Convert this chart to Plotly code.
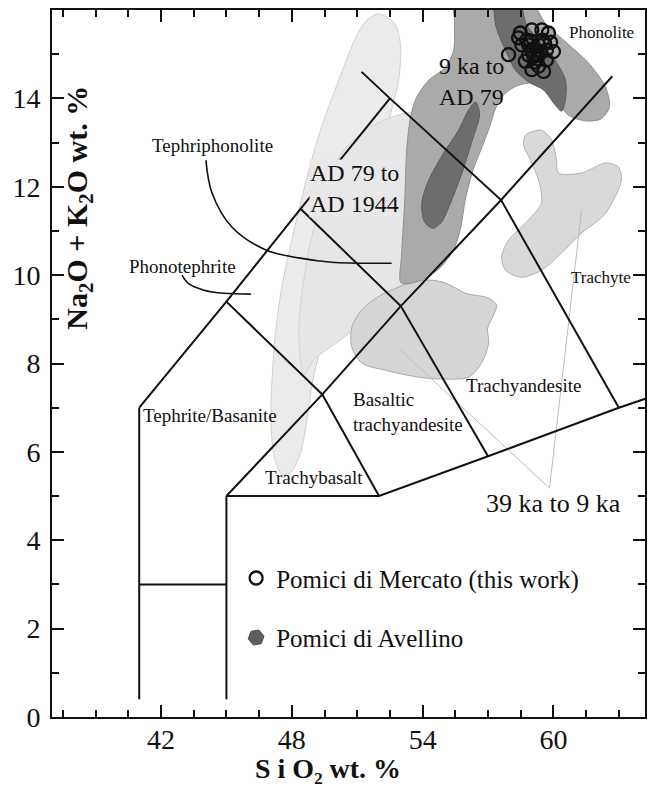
import plotly.graph_objects as go

SERIF = "Liberation Serif"

# ---------------- TAS classification boundaries (SiO2 wt.%, Na2O+K2O wt.%) ----------------
tas_x_41 = [41, 41];            tas_y_41 = [0.4, 7]
tas_x_picro = [41, 45];         tas_y_picro = [3, 3]
tas_x_45 = [45, 45];            tas_y_45 = [0.4, 5]
tas_x_base = [45, 52, 57, 63, 69];           tas_y_base = [5, 5, 5.9, 7, 8]
tas_x_teph = [41, 45, 48.4, 52.5];           tas_y_teph = [7, 9.4, 11.5, 14]
tas_x_diag = [45, 49.4, 53, 57.6, 62.7];     tas_y_diag = [5, 7.3, 9.3, 11.7, 14.5]
tas_x_tb = [49.4, 52];                       tas_y_tb = [7.3, 5]
tas_x_bta = [48.4, 53, 57];                  tas_y_bta = [11.5, 9.3, 5.9]
tas_x_pt = [45, 49.4];                       tas_y_pt = [9.4, 7.3]
tas_x_phon = [51.2, 52.5, 57.6, 63];         tas_y_phon = [14.6, 14, 11.7, 7]

# ---------------- Fields ----------------
# AD 79 to AD 1944 (very light elongated field)
f1_x = [51.99, 52.67, 52.99, 52.90, 52.58, 51.99, 51.16, 50.29, 49.56, 48.96, 48.69, 48.41,
        47.96, 47.54, 47.18, 47.04, 47.22, 47.54, 48.32, 49.24, 50.15, 50.98, 51.44]
f1_y = [15.91, 15.73, 15.21, 14.41, 13.74, 12.60, 11.25, 9.89, 8.76, 7.62, 6.72, 5.99,
        5.54, 5.50, 5.92, 6.88, 8.53, 9.73, 11.47, 13.17, 14.41, 15.43, 15.77]
# AD 79 to AD 1944 (second lobe)
f2_x = [50.38, 51.39, 52.44, 53.50, 53.82, 53.59, 53.36, 52.90, 51.76, 50.84, 49.92, 49.01,
        48.55, 48.32, 48.78, 49.70]
f2_y = [12.83, 13.28, 13.55, 13.67, 13.40, 11.70, 10.34, 9.66, 9.21, 8.76, 8.42, 8.08,
        7.74, 8.76, 10.57, 12.15]
# 39 ka to 9 ka (trachyandesite blob)
f3_x = [52.58, 53.36, 54.28, 55.06, 55.97, 57.03, 57.39, 57.25, 56.98, 57.03, 56.70, 56.11,
        54.87, 53.82, 52.44, 51.21, 50.75, 50.75, 51.21, 51.99]
f3_y = [9.66, 9.82, 9.89, 9.82, 9.59, 9.48, 9.32, 9.09, 8.80, 8.46, 8.01, 7.69,
        7.65, 7.69, 7.83, 8.01, 8.37, 8.82, 9.21, 9.52]
# 39 ka to 9 ka (trachyte blob)
f4_x = [58.72, 59.45, 59.91, 60.14, 60.23, 61.28, 62.39, 62.98, 63.12, 62.39, 61.29, 60.37,
        59.45, 58.54, 57.80, 57.62, 57.94, 58.86, 59.45, 59.32, 58.95, 58.63]
f4_y = [13.17, 13.28, 13.06, 12.60, 12.31, 12.31, 12.54, 12.45, 12.15, 11.40, 10.95, 10.50,
        10.11, 9.95, 10.11, 10.41, 10.79, 11.25, 11.63, 12.15, 12.60, 12.94]
# 9 ka to AD 79 (medium grey field)
f5_x = [52.99, 53.04, 53.18, 53.27, 53.45, 53.73, 54.28, 55.06, 55.42, 55.47, 55.51, 58.86,
        59.68, 60.46, 61.61, 62.39, 62.57, 62.16, 61.47, 60.69, 60.14, 59.64, 59.00, 58.31,
        57.71, 57.35, 57.07, 56.71, 56.34, 55.97, 55.74, 55.42, 54.83, 54.05, 53.27]
f5_y = [9.84, 10.50, 11.70, 12.83, 13.58, 14.03, 14.41, 14.71, 15.09, 15.66, 16.23, 16.23,
        15.66, 15.32, 14.80, 14.26, 13.80, 13.53, 13.49, 13.62, 13.96, 14.23, 14.35, 14.28,
        14.08, 13.78, 13.35, 12.88, 12.42, 11.74, 11.06, 10.57, 10.18, 9.91, 9.80]
# Pomici di Avellino (dark fields)
av1_x = [56.43, 56.61, 56.25, 55.79, 55.33, 54.87, 54.46, 54.09, 53.96, 54.28, 54.96, 55.65, 56.11]
av1_y = [13.92, 13.64, 13.01, 12.29, 11.70, 11.20, 11.06, 11.20, 11.63, 12.15, 12.76, 13.28, 13.74]
av2_x = [57.35, 57.35, 58.40, 58.77, 59.55, 60.14, 60.55, 60.55, 60.37, 60.05, 59.55, 58.86, 58.26, 57.80]
av2_y = [15.66, 16.23, 16.23, 15.66, 15.21, 14.82, 14.41, 13.96, 13.71, 13.87, 14.19, 14.37, 14.64, 15.09]

# leader lines
lead39a_x = [52.99, 59.82];  lead39a_y = [8.30, 5.18]
lead39b_x = [61.29, 59.82];  lead39b_y = [11.47, 5.18]
lead_tp_x = [44.06, 44.34, 45.25, 46.81, 48.32, 49.83, 52.58]
lead_tp_y = [12.60, 11.86, 11.09, 10.57, 10.39, 10.29, 10.27]
lead_pt_x = [42.96, 43.28, 43.97, 44.89, 46.12]
lead_pt_y = [10.00, 9.80, 9.66, 9.59, 9.57]

# Pomici di Mercato (this work)
merc_sio2 = [57.94, 58.48, 59.01, 59.47, 59.77, 58.40, 58.55, 60.00, 59.55, 59.01, 58.71, 58.86,
             59.32, 59.68, 58.86, 59.32, 59.68, 59.13, 58.77, 59.50, 59.22, 59.87, 59.32,
             59.00, 59.40, 59.10, 58.95, 59.60, 59.25]
merc_alk = [14.99, 15.48, 15.55, 15.55, 15.48, 15.37, 15.21, 15.06, 14.61, 14.65, 14.84, 15.21,
            15.21, 15.09, 14.98, 14.98, 14.87, 14.82, 15.32, 15.32, 15.09, 15.27, 14.73,
            15.10, 15.05, 14.95, 15.30, 15.25, 14.90]

x_ticks = [42, 48, 54, 60]
y_ticks = [0, 2, 4, 6, 8, 10, 12, 14]

fig = go.Figure()

def field(x, y, fill, line):
    fig.add_trace(go.Scatter(x=x + x[:1], y=y + y[:1], mode="lines", fill="toself",
                             fillcolor=fill, line=dict(color=line, width=1, shape="spline", smoothing=0.8),
                             hoverinfo="skip", showlegend=False))

field(f1_x, f1_y, "#ebebeb", "#d0d0d0")
field(f2_x, f2_y, "#e6e6e6", "#d4d4d4")
field(f3_x, f3_y, "#d5d5d5", "#a9a9a9")
field(f4_x, f4_y, "#d9d9d9", "#b3b3b3")
field(f5_x, f5_y, "#aaaaaa", "#8f8f8f")
field(av1_x, av1_y, "#6d6d6d", "#5c5c5c")
field(av2_x, av2_y, "#6d6d6d", "#5c5c5c")

for lx, ly in [(lead39a_x, lead39a_y), (lead39b_x, lead39b_y)]:
    fig.add_trace(go.Scatter(x=lx, y=ly, mode="lines", line=dict(color="#bdbdbd", width=1),
                             hoverinfo="skip", showlegend=False))
for lx, ly in [(lead_tp_x, lead_tp_y), (lead_pt_x, lead_pt_y)]:
    fig.add_trace(go.Scatter(x=lx, y=ly, mode="lines", line=dict(color="#111", width=1.6, shape="spline"),
                             hoverinfo="skip", showlegend=False))

for lx, ly in [(tas_x_41, tas_y_41), (tas_x_picro, tas_y_picro), (tas_x_45, tas_y_45),
               (tas_x_base, tas_y_base), (tas_x_teph, tas_y_teph), (tas_x_diag, tas_y_diag),
               (tas_x_tb, tas_y_tb), (tas_x_bta, tas_y_bta), (tas_x_pt, tas_y_pt),
               (tas_x_phon, tas_y_phon)]:
    fig.add_trace(go.Scatter(x=lx, y=ly, mode="lines", line=dict(color="#111", width=2),
                             hoverinfo="skip", showlegend=False))

fig.add_trace(go.Scatter(x=merc_sio2, y=merc_alk, mode="markers", name="Pomici di Mercato (this work)",
                         legendgroup="a", legendrank=1,
                         marker=dict(symbol="circle-open", size=13, color="#111", line=dict(width=2.3))))
# legend entry for the dark Avellino fields
fig.add_trace(go.Scatter(x=[None], y=[None], mode="markers", name="Pomici di Avellino",
                         legendgroup="b", legendrank=2,
                         marker=dict(symbol="hexagon", size=16, angle=20, color="#5e5e5e",
                                     line=dict(color="#4e4e4e", width=1))))

labels = [
    ("Phonolite", 62.2, 15.50, 17),
    ("Trachyte", 62.16, 9.95, 17),
    ("Tephriphonolite", 44.35, 12.94, 19),
    ("Phonotephrite", 42.98, 10.19, 19),
    ("Tephrite/Basanite", 44.24, 6.83, 19),
    ("Trachybasalt", 49.0, 5.43, 19),
    ("Trachyandesite", 58.63, 7.51, 19),
]
for t, x, y, s in labels:
    fig.add_annotation(x=x, y=y, text=t, showarrow=False, font=dict(family=SERIF, size=s, color="#111"))

fig.add_annotation(x=50.72, y=6.91, text="Basaltic<br>trachyandesite", showarrow=False, xanchor="left",
                   align="left", font=dict(family=SERIF, size=19, color="#111"))
fig.add_annotation(x=54.64, y=14.38, text="9 ka to<br>AD 79", showarrow=False, xanchor="left",
                   align="left", font=dict(family=SERIF, size=24, color="#111"))
fig.add_annotation(x=48.78, y=11.97, text="AD 79 to<br>AD 1944", showarrow=False, xanchor="left",
                   align="left", bgcolor="#e8e8e8", borderpad=0,
                   font=dict(family=SERIF, size=24, color="#111"))
fig.add_annotation(x=60.0, y=4.84, text="39 ka to 9 ka", showarrow=False,
                   font=dict(family=SERIF, size=26, color="#111"))

# axis titles
fig.add_annotation(xref="paper", yref="paper", x=0.0463, y=0.721, xanchor="center", yanchor="middle",
                   textangle=-90, showarrow=False,
                   text="<b>Na<sub>2</sub>O + K<sub>2</sub>O wt. %</b>",
                   font=dict(family=SERIF, size=30, color="#111"))
fig.add_annotation(xref="paper", yref="paper", x=0.4653, y=-0.0730, xanchor="center", yanchor="middle",
                   showarrow=False, text="<b>S i O\u2082 wt. %</b>",
                   font=dict(family=SERIF, size=28, color="#111"))

axis_common = dict(showline=True, linewidth=2, linecolor="#111", mirror="ticks", ticks="inside",
                   ticklen=12, tickwidth=2, tickcolor="#111", showgrid=False, zeroline=False,
                   tickfont=dict(family=SERIF, size=28, color="#111"))
fig.update_xaxes(range=[37, 64.2], tickmode="array", tickvals=x_ticks,
                 minor=dict(tickmode="linear", tick0=42, dtick=1.5, ticks="inside", ticklen=7,
                            tickwidth=1.5, tickcolor="#111", showgrid=False),
                 ticklabelstandoff=-4, **axis_common)
fig.update_yaxes(range=[0, 16], tickmode="array", tickvals=y_ticks,
                 minor=dict(tickmode="linear", tick0=0, dtick=1, ticks="inside", ticklen=7,
                            tickwidth=1.5, tickcolor="#111", showgrid=False),
                 ticklabelstandoff=4, **axis_common)

fig.update_layout(
    width=654, height=787,
    margin=dict(l=52, r=7, t=10, b=70),
    paper_bgcolor="white", plot_bgcolor="white",
    legend=dict(x=0.3105, y=0.2288, xanchor="left", yanchor="top", bgcolor="rgba(0,0,0,0)",
                font=dict(family=SERIF, size=25, color="#111"), tracegroupgap=24,
                traceorder="grouped"),
)

fig.write_html("out.html")
